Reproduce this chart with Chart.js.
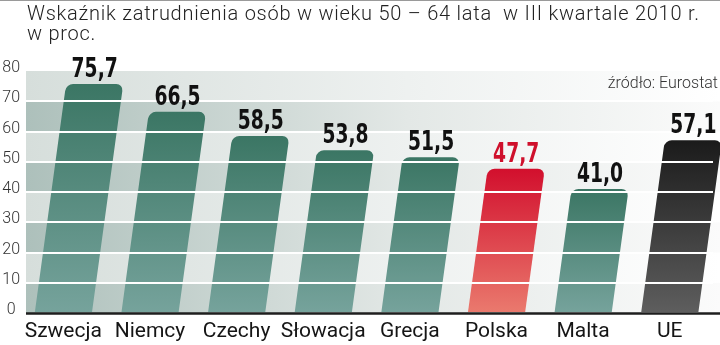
<!DOCTYPE html>
<html>
<head>
<meta charset="utf-8">
<script src="https://cdn.jsdelivr.net/npm/chart.js@4"></script>
<style>
html,body{margin:0;padding:0;background:#fff;}
#wrap{width:720px;height:345px;position:relative;}
</style>
</head>
<body>
<div id="wrap"><canvas id="c" width="720" height="345"></canvas></div>
<script>
const titleLines = ['Wskaźnik zatrudnienia osób w wieku 50 – 64 lata  w III kwartale 2010 r.', 'w proc.'];
const sourceText = 'źródło: Eurostat';
const categories = ['Szwecja', 'Niemcy', 'Czechy', 'Słowacja', 'Grecja', 'Polska', 'Malta', 'UE'];
const values = [75.7, 66.5, 58.5, 53.8, 51.5, 47.7, 41.0, 57.1];
const valueLabels = ['75,7', '66,5', '58,5', '53,8', '51,5', '47,7', '41,0', '57,1'];
const yTicks = [0, 10, 20, 30, 40, 50, 60, 70, 80];

const SKEW = 0.137;
const palettes = {
  green: ['#3b7664', '#76a39c'],
  red: ['#d20f2d', '#ea7a6e'],
  black: ['#1b1b1b', '#5e5e5e']
};
function paletteFor(i) {
  if (categories[i] === 'Polska') return palettes.red;
  if (categories[i] === 'UE') return palettes.black;
  return palettes.green;
}
function labelColor(i) { return categories[i] === 'Polska' ? '#cf102c' : '#111'; }

const decorPlugin = {
  id: 'decor',
  beforeDatasetsDraw(chart) {
    const {ctx, chartArea: a, scales: {y}} = chart;
    const L = a.left + 6, R = 720;
    for (let i = 0; i < yTicks.length - 1; i++) {
      const t = y.getPixelForValue(yTicks[i + 1]);
      const b = y.getPixelForValue(yTicks[i]);
      const g = ctx.createLinearGradient(L, 0, R, 0);
      if (i % 2 === 0) {
        g.addColorStop(0, '#adc0bb'); g.addColorStop(0.55, '#e3e8e6'); g.addColorStop(1, '#fbfbfb');
      } else {
        g.addColorStop(0, '#d6dedb'); g.addColorStop(0.55, '#eef1f0'); g.addColorStop(1, '#ffffff');
      }
      ctx.fillStyle = g;
      ctx.fillRect(L, t, R - L, b - t);
    }
    ctx.save();
    const base = a.bottom;
    ctx.transform(1, 0, -SKEW, 1, SKEW * base, 0);
  },
  afterDatasetsDraw(chart) {
    chart.ctx.restore();
  },
  afterDraw(chart) {
    const {ctx, chartArea: a} = chart;
    const base = a.bottom;
    ctx.save();
    ctx.strokeStyle = '#1e1e1e';
    ctx.lineWidth = 2.5;
    ctx.beginPath();
    ctx.moveTo(a.left + 6, base + 0.5);
    ctx.lineTo(720, base + 0.5);
    ctx.stroke();
    ctx.strokeStyle = '#9a9a9a';
    ctx.lineWidth = 1;
    ctx.beginPath();
    ctx.moveTo(0, 0.5); ctx.lineTo(720, 0.5); ctx.stroke();
    const meta = chart.getDatasetMeta(0);
    ctx.font = 'bold 26px "DejaVu Sans Condensed", sans-serif';
    ctx.textAlign = 'center';
    ctx.textBaseline = 'alphabetic';
    meta.data.forEach((el, i) => {
      const x = el.x + SKEW * (base - el.y);
      ctx.save();
      ctx.translate(x, el.y - 7);
      ctx.scale(0.8, 1);
      ctx.fillStyle = labelColor(i);
      ctx.fillText(valueLabels[i], 0, 0);
      ctx.restore();
    });
    ctx.fillStyle = '#222';
    ctx.textAlign = 'left';
    ctx.font = '300 20px Roboto, sans-serif';
    ctx.letterSpacing = '0.75px';
    ctx.fillText(titleLines[0], 27, 20);
    ctx.fillText(titleLines[1], 27, 40);
    ctx.letterSpacing = '0px';
    ctx.textAlign = 'right';
    ctx.font = '300 16px Roboto, sans-serif';
    ctx.fillStyle = '#333';
    ctx.fillText(sourceText, 718, 88);
    ctx.restore();
  }
};

new Chart(document.getElementById('c'), {
  type: 'bar',
  data: {
    labels: categories,
    datasets: [{
      data: values,
      clip: false,
      backgroundColor: (c) => {
        const ch = c.chart;
        const y = ch.scales && ch.scales.y;
        const p = paletteFor(c.dataIndex || 0);
        if (!y || c.type !== 'data') return p[0];
        const top = y.getPixelForValue(c.raw);
        const bot = y.getPixelForValue(0);
        if (!isFinite(top) || !isFinite(bot) || top === bot) return p[0];
        const g = ch.ctx.createLinearGradient(0, top, 0, bot);
        g.addColorStop(0, p[0]);
        g.addColorStop(1, p[1]);
        return g;
      },
      borderWidth: 0,
      borderSkipped: 'bottom',
      borderRadius: {topLeft: 7, topRight: 7, bottomLeft: 0, bottomRight: 0},
      barPercentage: 0.66,
      categoryPercentage: 1
    }]
  },
  options: {
    responsive: false,
    animation: false,
    events: [],
    layout: {padding: {top: 71, left: 0, right: 7, bottom: 0}},
    plugins: {legend: {display: false}, tooltip: {enabled: false}, title: {display: false}},
    scales: {
      x: {
        grid: {display: false, drawTicks: false},
        border: {display: false},
        ticks: {
          color: '#151515',
          font: {family: 'Roboto', size: 21, weight: '400'},
          padding: 6,
          maxRotation: 0,
          autoSkip: false
        },
        afterFit(s) { s.height = 32; }
      },
      y: {
        min: 0, max: 80,
        afterBuildTicks(s) { s.ticks = yTicks.map(v => ({value: v})); },
        grid: {
          z: 1,
          drawTicks: false,
          lineWidth: 2,
          color: (c) => (c.tick && (c.tick.value === 0 || c.tick.value === 80)) ? 'rgba(0,0,0,0)' : '#ffffff'
        },
        border: {display: false},
        ticks: {
          color: '#333',
          font: {family: 'Roboto', size: 16, weight: '300'},
          padding: 0,
          crossAlign: 'center',
          labelOffset: -3
        },
        afterFit(s) { s.width = 20; }
      }
    }
  },
  plugins: [decorPlugin]
});
</script>
</body>
</html>
